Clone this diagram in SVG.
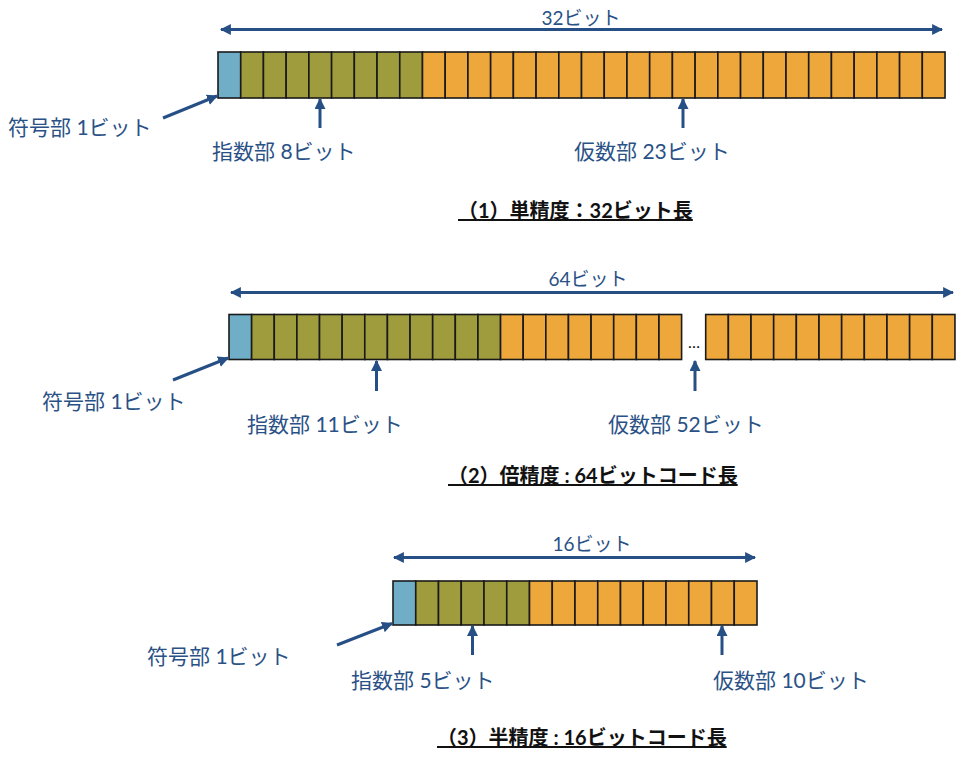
<svg xmlns="http://www.w3.org/2000/svg" width="967" height="759" viewBox="0 0 967 759">
<defs>
<style>
.s{fill:#70AEC7;stroke:#1a1a1a;stroke-width:1.6}
.e{fill:#9E9C3D;stroke:#1a1a1a;stroke-width:1.6}
.m{fill:#EEA73A;stroke:#1a1a1a;stroke-width:1.6}
.ar{stroke:#264F85;stroke-width:3;fill:none}
.lb{font-family:Lato,"Noto Sans CJK JP",sans-serif;font-size:21px;fill:#2A5186}
.sz{font-family:Lato,"Noto Sans CJK JP",sans-serif;font-size:19px;fill:#2A5186;text-anchor:middle}
.tt{font-family:Lato,"Noto Sans CJK JP",sans-serif;font-size:20px;font-weight:bold;fill:#111;text-decoration:underline}
</style>
<marker id="ah" viewBox="0 0 10 10" refX="9" refY="5" markerWidth="11" markerHeight="11" markerUnits="userSpaceOnUse" orient="auto-start-reverse">
<path d="M0,0 L10,5 L0,10 Z" fill="#264F85"/>
</marker>
</defs>
<rect width="967" height="759" fill="#fff"/>

<g id="single">
<g id="single-cells">
<rect class="s" x="218" y="52" width="22.72" height="46"/>
<rect class="e" x="240.72" y="52" width="22.72" height="46"/>
<rect class="e" x="263.44" y="52" width="22.72" height="46"/>
<rect class="e" x="286.16" y="52" width="22.72" height="46"/>
<rect class="e" x="308.88" y="52" width="22.72" height="46"/>
<rect class="e" x="331.6" y="52" width="22.72" height="46"/>
<rect class="e" x="354.32" y="52" width="22.72" height="46"/>
<rect class="e" x="377.04" y="52" width="22.72" height="46"/>
<rect class="e" x="399.76" y="52" width="22.72" height="46"/>
<rect class="m" x="422.48" y="52" width="22.72" height="46"/>
<rect class="m" x="445.2" y="52" width="22.72" height="46"/>
<rect class="m" x="467.92" y="52" width="22.72" height="46"/>
<rect class="m" x="490.64" y="52" width="22.72" height="46"/>
<rect class="m" x="513.36" y="52" width="22.72" height="46"/>
<rect class="m" x="536.08" y="52" width="22.72" height="46"/>
<rect class="m" x="558.8" y="52" width="22.72" height="46"/>
<rect class="m" x="581.52" y="52" width="22.72" height="46"/>
<rect class="m" x="604.24" y="52" width="22.72" height="46"/>
<rect class="m" x="626.96" y="52" width="22.72" height="46"/>
<rect class="m" x="649.68" y="52" width="22.72" height="46"/>
<rect class="m" x="672.4" y="52" width="22.72" height="46"/>
<rect class="m" x="695.12" y="52" width="22.72" height="46"/>
<rect class="m" x="717.84" y="52" width="22.72" height="46"/>
<rect class="m" x="740.56" y="52" width="22.72" height="46"/>
<rect class="m" x="763.28" y="52" width="22.72" height="46"/>
<rect class="m" x="786" y="52" width="22.72" height="46"/>
<rect class="m" x="808.72" y="52" width="22.72" height="46"/>
<rect class="m" x="831.44" y="52" width="22.72" height="46"/>
<rect class="m" x="854.16" y="52" width="22.72" height="46"/>
<rect class="m" x="876.88" y="52" width="22.72" height="46"/>
<rect class="m" x="899.6" y="52" width="22.72" height="46"/>
<rect class="m" x="922.32" y="52" width="22.72" height="46"/>
</g>
<text class="sz" x="581" y="25">32ビット</text>
<text class="lb" x="8" y="135">符号部 1ビット</text>
<text class="lb" x="212" y="159">指数部 8ビット</text>
<text class="lb" x="574" y="159">仮数部 23ビット</text>
<text class="tt" x="458" y="218">（1）単精度：32ビット長</text>
</g>

<g id="double">
<g id="double-cells">
<rect class="s" x="229" y="314.5" width="22.63" height="45"/>
<rect class="e" x="251.63" y="314.5" width="22.63" height="45"/>
<rect class="e" x="274.26" y="314.5" width="22.63" height="45"/>
<rect class="e" x="296.89" y="314.5" width="22.63" height="45"/>
<rect class="e" x="319.52" y="314.5" width="22.63" height="45"/>
<rect class="e" x="342.15" y="314.5" width="22.63" height="45"/>
<rect class="e" x="364.78" y="314.5" width="22.63" height="45"/>
<rect class="e" x="387.41" y="314.5" width="22.63" height="45"/>
<rect class="e" x="410.04" y="314.5" width="22.63" height="45"/>
<rect class="e" x="432.67" y="314.5" width="22.63" height="45"/>
<rect class="e" x="455.3" y="314.5" width="22.63" height="45"/>
<rect class="e" x="477.93" y="314.5" width="22.63" height="45"/>
<rect class="m" x="500.56" y="314.5" width="22.63" height="45"/>
<rect class="m" x="523.19" y="314.5" width="22.63" height="45"/>
<rect class="m" x="545.82" y="314.5" width="22.63" height="45"/>
<rect class="m" x="568.45" y="314.5" width="22.63" height="45"/>
<rect class="m" x="591.08" y="314.5" width="22.63" height="45"/>
<rect class="m" x="613.71" y="314.5" width="22.63" height="45"/>
<rect class="m" x="636.34" y="314.5" width="22.63" height="45"/>
<rect class="m" x="658.97" y="314.5" width="22.63" height="45"/>
<rect class="m" x="705.7" y="314.5" width="22.66" height="45"/>
<rect class="m" x="728.36" y="314.5" width="22.66" height="45"/>
<rect class="m" x="751.02" y="314.5" width="22.66" height="45"/>
<rect class="m" x="773.68" y="314.5" width="22.66" height="45"/>
<rect class="m" x="796.34" y="314.5" width="22.66" height="45"/>
<rect class="m" x="819" y="314.5" width="22.66" height="45"/>
<rect class="m" x="841.66" y="314.5" width="22.66" height="45"/>
<rect class="m" x="864.32" y="314.5" width="22.66" height="45"/>
<rect class="m" x="886.98" y="314.5" width="22.66" height="45"/>
<rect class="m" x="909.64" y="314.5" width="22.66" height="45"/>
<rect class="m" x="932.3" y="314.5" width="22.66" height="45"/>
</g>
<text x="694" y="348" font-family="Lato,'Noto Sans CJK JP',sans-serif" font-size="16" fill="#111" text-anchor="middle">…</text>
<text class="sz" x="588" y="286">64ビット</text>
<text class="lb" x="42" y="409">符号部 1ビット</text>
<text class="lb" x="247" y="432">指数部 11ビット</text>
<text class="lb" x="608" y="432">仮数部 52ビット</text>
<text class="tt" x="448" y="483">（2）倍精度 : 64ビットコード長</text>
</g>

<g id="half">
<g id="half-cells">
<rect class="s" x="393" y="581" width="22.75" height="44"/>
<rect class="e" x="415.75" y="581" width="22.75" height="44"/>
<rect class="e" x="438.5" y="581" width="22.75" height="44"/>
<rect class="e" x="461.25" y="581" width="22.75" height="44"/>
<rect class="e" x="484" y="581" width="22.75" height="44"/>
<rect class="e" x="506.75" y="581" width="22.75" height="44"/>
<rect class="m" x="529.5" y="581" width="22.75" height="44"/>
<rect class="m" x="552.25" y="581" width="22.75" height="44"/>
<rect class="m" x="575" y="581" width="22.75" height="44"/>
<rect class="m" x="597.75" y="581" width="22.75" height="44"/>
<rect class="m" x="620.5" y="581" width="22.75" height="44"/>
<rect class="m" x="643.25" y="581" width="22.75" height="44"/>
<rect class="m" x="666" y="581" width="22.75" height="44"/>
<rect class="m" x="688.75" y="581" width="22.75" height="44"/>
<rect class="m" x="711.5" y="581" width="22.75" height="44"/>
<rect class="m" x="734.25" y="581" width="22.75" height="44"/>
</g>
<text class="sz" x="592" y="551">16ビット</text>
<text class="lb" x="147" y="664">符号部 1ビット</text>
<text class="lb" x="351" y="688">指数部 5ビット</text>
<text class="lb" x="713" y="688">仮数部 10ビット</text>
<text class="tt" x="437" y="745">（3）半精度 : 16ビットコード長</text>
</g>

<g id="connectors">
<line class="ar" x1="221" y1="29.5" x2="942" y2="29.5" marker-start="url(#ah)" marker-end="url(#ah)"/>
<line class="ar" x1="163" y1="118" x2="217" y2="96" marker-end="url(#ah)"/>
<line class="ar" x1="320" y1="128" x2="320" y2="99" marker-end="url(#ah)"/>
<line class="ar" x1="683" y1="128" x2="683" y2="99" marker-end="url(#ah)"/>

<line class="ar" x1="231" y1="292.5" x2="953" y2="292.5" marker-start="url(#ah)" marker-end="url(#ah)"/>
<line class="ar" x1="173" y1="380" x2="228" y2="358" marker-end="url(#ah)"/>
<line class="ar" x1="376.5" y1="391" x2="376.5" y2="361" marker-end="url(#ah)"/>
<line class="ar" x1="695" y1="391" x2="695" y2="361" marker-end="url(#ah)"/>

<line class="ar" x1="394" y1="557.5" x2="755" y2="557.5" marker-start="url(#ah)" marker-end="url(#ah)"/>
<line class="ar" x1="337" y1="645" x2="392" y2="623.5" marker-end="url(#ah)"/>
<line class="ar" x1="472.5" y1="655" x2="472.5" y2="626" marker-end="url(#ah)"/>
<line class="ar" x1="722" y1="655" x2="722" y2="626" marker-end="url(#ah)"/>
</g>
</svg>
